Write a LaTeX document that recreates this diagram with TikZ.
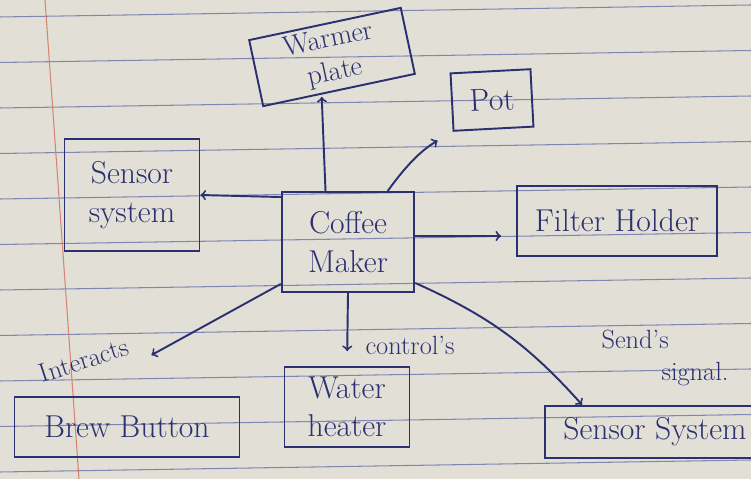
\documentclass[tikz,border=0pt]{standalone}
\usetikzlibrary{positioning}

\definecolor{ink}{RGB}{42,48,112}
\definecolor{paper}{RGB}{226,224,214}
\definecolor{rule}{RGB}{128,136,178}
\definecolor{margin}{RGB}{214,132,112}

\tikzset{
  box/.style={draw=ink, text=ink, align=center, inner sep=2pt,
    font=\fontsize{18}{22}\selectfont},
  note/.style={text=ink, align=left, inner sep=1pt,
    font=\fontsize{15}{18}\selectfont}
}

\begin{document}
\begin{tikzpicture}[x=0.02cm, y=-0.02cm, line width=1.1pt]

        % notebook page
        \clip (0,0) rectangle (751,479);
        \fill[paper] (0,0) rectangle (751,479);
        \foreach \k in {0,...,10}
          \draw[rule, line width=0.6pt] (0,{17+45.5*\k}) -- (751,{5+45.5*\k});
        \draw[margin, line width=0.6pt] (45,0) -- (79,479);

        \begin{scope}[every node/.style={box}]
          \node[minimum width=3.1cm, minimum height=1.35cm, rotate=12,
            font=\fontsize{16}{19}\selectfont] (1) at (332,57) {Warmer\\plate};
          \node[minimum width=1.6cm, minimum height=1.15cm, rotate=3] (2) at (492,100) {Pot};
          \node[minimum width=2.7cm, minimum height=2.25cm] (3) at (132,195) {Sensor\\system};
          \node[minimum width=2.65cm, minimum height=2cm] (4) at (348,242) {Coffee\\Maker};
          \node[minimum width=4cm, minimum height=1.4cm] (5) at (617,221) {Filter Holder};
          \node[minimum width=4.5cm, minimum height=1.2cm] (6) at (127,427) {Brew Button};
          \node[minimum width=2.5cm, minimum height=1.6cm] (7) at (347,407) {Water\\heater};
          \node[minimum width=4.4cm, minimum height=1.05cm] (8) at (655,432) {Sensor System};
        \end{scope}

        \begin{scope}[every node/.style={note}]
          \node[rotate=18] (9) at (84,360) {Interacts};
          \node (10) at (410,345) {control's};
          \node (11) at (665,358) {Send's\\\hspace{1.2cm}signal.};
        \end{scope}

        \begin{scope}[every edge/.style={draw=ink, ->}]
          \path ([xshift=-0.45cm]4.north) edge ([xshift=-0.35cm, yshift=-0.12cm]1.south);
          \path ([xshift=-0.55cm]4.north east) edge[bend left=12, shorten >=0.35cm] (2.south west);
          \path ([yshift=-0.12cm]4.north west) edge (3.east);
          \path ([yshift=0.12cm]4.east) edge[shorten >=0.3cm] ([yshift=0.12cm]4.east -| 5.west);
          \path ([yshift=0.18cm]4.south west) edge[shorten >=1.7cm] ([xshift=-1cm]6.north);
          \path (4.south) edge[shorten >=0.3cm] (7.north);
          \path ([yshift=0.2cm]4.south east) edge[bend left=12] ([xshift=0.76cm]8.north west);
        \end{scope}

      \end{tikzpicture}
\end{document}
